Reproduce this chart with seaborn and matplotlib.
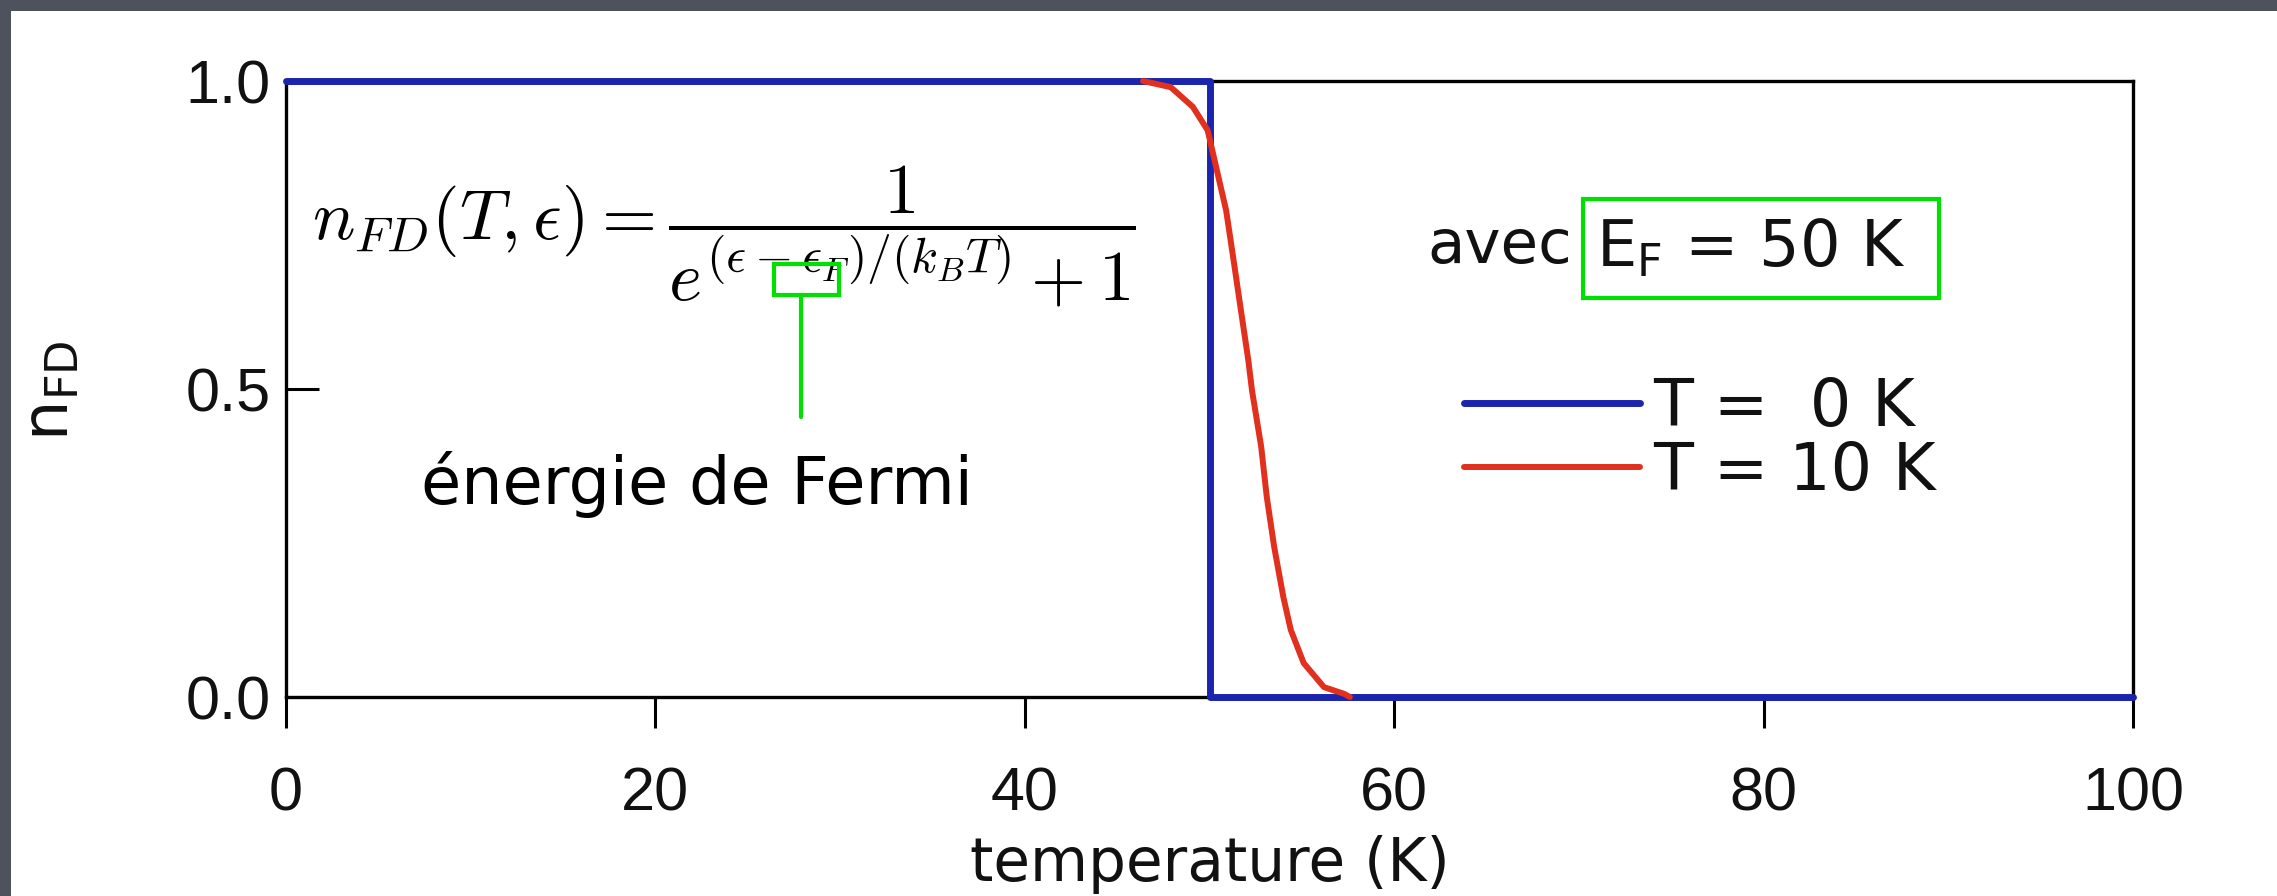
import matplotlib
matplotlib.use("Agg")
import matplotlib.pyplot as plt
import matplotlib.patches as mpatches
import matplotlib.lines as mlines
import seaborn as sns
import pandas as pd

# ---------------- data ----------------
t0_temperature = [0, 50, 50, 100]
t0_nfd = [1.0, 1.0, 0.0, 0.0]

t10_temperature = [46.4, 47.9, 49.1, 49.9, 50.4, 50.9, 51.3, 51.7, 52.1, 52.3,
                   52.8, 53.1, 53.5, 54.0, 54.4, 55.1, 56.2, 57.3, 57.6]
t10_nfd = [1.0, 0.99, 0.958, 0.92, 0.855, 0.79, 0.71, 0.628, 0.547, 0.498,
           0.406, 0.325, 0.244, 0.162, 0.109, 0.055, 0.016, 0.005, 0.0]

series_labels = ["T =  0 K", "T = 10 K"]
series_colors = ["#1b24ad", "#e2301f"]
x_ticks = [0, 20, 40, 60, 80, 100]
y_ticks = [0.0, 0.5, 1.0]
y_tick_labels = ["0.0", "0.5", "1.0"]

# ---------------- style ----------------
sns.set_theme(style="white")
plt.rcParams["font.family"] = ["Liberation Sans", "DejaVu Sans"]
WIDE = ["DejaVu Sans"]

W, H = 2277, 896
fig = plt.figure(figsize=(W / 100, H / 100), dpi=100)
fig.patch.set_facecolor("#4d525c")
fig.patches.append(mpatches.Rectangle((11 / W, 0), 1, (H - 11) / H,
                                      transform=fig.transFigure,
                                      facecolor="white", edgecolor="none", zorder=-10))

L, R, T, B = 286, 2133, 81, 697
ax = fig.add_axes([L / W, 1 - B / H, (R - L) / W, (B - T) / H])
ax.set_facecolor("white")


def ax_xy(px, py):
    return (px - L) / (R - L), (B - py) / (B - T)


df0 = pd.DataFrame({"temperature": t0_temperature, "nfd": t0_nfd})
df10 = pd.DataFrame({"temperature": t10_temperature, "nfd": t10_nfd})

sns.lineplot(data=df0, x="temperature", y="nfd", ax=ax, color=series_colors[0],
             lw=5.0, sort=False, estimator=None, clip_on=False, zorder=3)
sns.lineplot(data=df10, x="temperature", y="nfd", ax=ax, color=series_colors[1],
             lw=4.3, sort=False, estimator=None, clip_on=False, zorder=4)

ax.set_xlim(0, 100)
ax.set_ylim(0, 1)
ax.set_xticks(x_ticks)
ax.set_xticklabels([str(v) for v in x_ticks])
ax.set_yticks(y_ticks)
ax.set_yticklabels(y_tick_labels)

for s in ax.spines.values():
    s.set_color("black")
    s.set_linewidth(2.4)
    s.set_visible(True)

ax.tick_params(axis="x", direction="out", length=22, width=2.2, color="black",
               labelsize=44, pad=28, bottom=True, labelcolor="#111111")
ax.tick_params(axis="y", direction="in", length=24, width=2.2, color="black",
               labelsize=44, pad=11, left=True, labelcolor="#111111")

ax.set_xlabel("temperature (K)", fontsize=43, family=WIDE, color="#111111")
ax.xaxis.set_label_coords(0.5, ax_xy(0, 864)[1])
ax.xaxis.label.set_va("center")
ax.set_ylabel(r"n$_\mathregular{FD}$", fontsize=46, family=WIDE, color="#111111")
ax.yaxis.set_label_coords(*ax_xy(50, 391))
ax.yaxis.label.set_va("center")

# formula
ax.text(*ax_xy(312, 236),
        r"$n_{FD}(T,\epsilon) = \dfrac{1}{e^{(\epsilon-\epsilon_F)/(k_BT)}+1}$",
        transform=ax.transAxes, ha="left", va="center", fontsize=51,
        math_fontfamily="cm", color="black")

green = "#00e000"
# box around epsilon_F and connector
x0, y0 = ax_xy(774, 295)
x1, y1 = ax_xy(839, 264)
ax.add_patch(mpatches.Rectangle((x0, y0), x1 - x0, y1 - y0, transform=ax.transAxes,
                                fill=False, edgecolor=green, lw=3, zorder=6))
cx, cy0 = ax_xy(801, 295)
_, cy1 = ax_xy(801, 417)
ax.add_line(mlines.Line2D([cx, cx], [cy0, cy1], transform=ax.transAxes,
                          color=green, lw=3, zorder=6))

ax.text(*ax_xy(421, 484), "énergie de Fermi", transform=ax.transAxes,
        ha="left", va="center", fontsize=47, family=WIDE, color="black")

# avec E_F = 50 K
ax.text(*ax_xy(1572, 247), "avec", transform=ax.transAxes, ha="right", va="center",
        fontsize=44, family=WIDE, color="#111111")
ax.text(*ax_xy(1596, 247), r"E$_\mathregular{F}$ = 50 K", transform=ax.transAxes,
        ha="left", va="center", fontsize=46, family=WIDE, color="#111111")
bx0, by0 = ax_xy(1583, 298)
bx1, by1 = ax_xy(1939, 199)
ax.add_patch(mpatches.Rectangle((bx0, by0), bx1 - bx0, by1 - by0, transform=ax.transAxes,
                                fill=False, edgecolor=green, lw=3, zorder=6))

# legend
handles = [mlines.Line2D([], [], color=series_colors[0], lw=5.0),
           mlines.Line2D([], [], color=series_colors[1], lw=4.3)]
lx, ly = ax_xy(1464, 440)
leg = ax.legend(handles, series_labels, loc="center left", bbox_to_anchor=(lx, ly),
                bbox_transform=ax.transAxes, frameon=False,
                prop={"family": WIDE, "size": 47},
                handlelength=2.7, handletextpad=0.2, labelspacing=0.0,
                borderpad=0, borderaxespad=0)
for t in leg.get_texts():
    t.set_color("#111111")

fig.savefig("out.png", dpi=100, facecolor=fig.get_facecolor())
